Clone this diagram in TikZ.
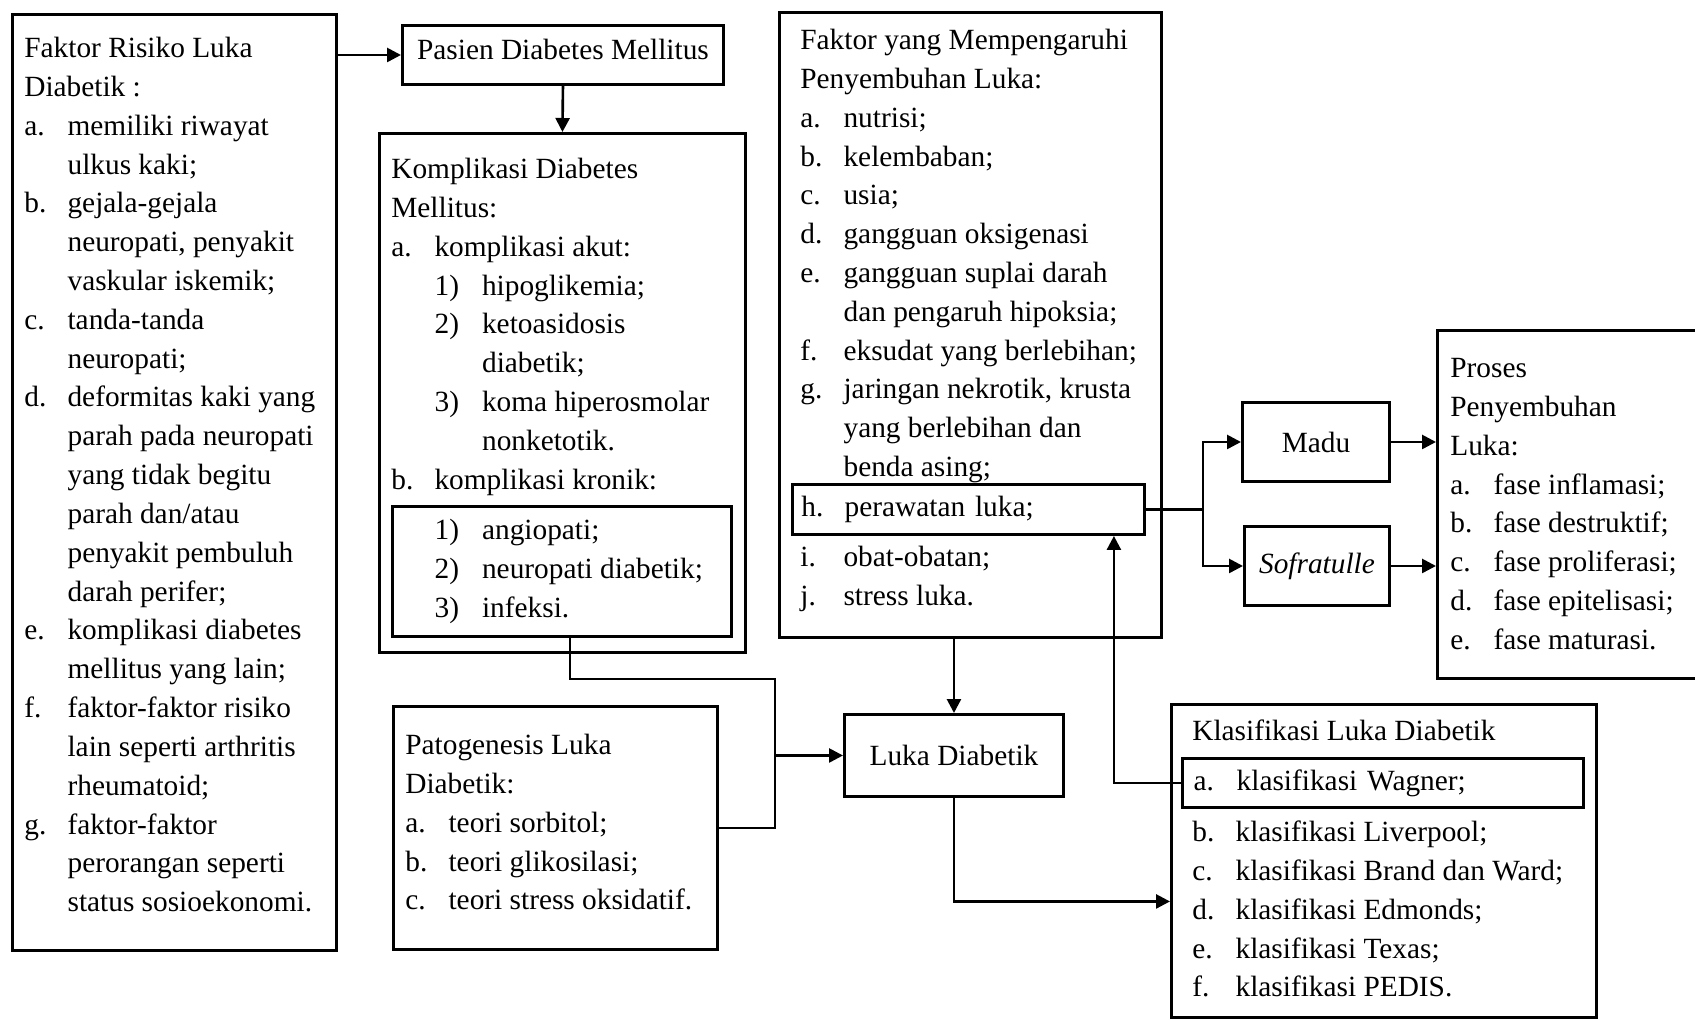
\documentclass[tikz,border=0pt]{standalone}
\usepackage{fontspec}
\setmainfont{Liberation Serif}
\usetikzlibrary{arrows.meta, positioning}
\newcommand{\mainfs}{\fontsize{16.7pt}{22.1pt}\selectfont}
\newlength{\lblw}
\setlength{\lblw}{0.865cm}
\newlength{\sublw}
\setlength{\sublw}{0.95cm}
\newcommand{\itm}[1]{\makebox[\lblw][l]{#1}}
\newcommand{\sub}[1]{\hspace*{\lblw}\makebox[\sublw][l]{#1}}
\newcommand{\cnt}{\hspace*{\lblw}}
\newcommand{\subcnt}{\hspace*{\lblw}\hspace*{\sublw}}

\begin{document}
\begin{tikzpicture}[
  x=0.02cm, y=-0.02cm,
  every node/.style={font=\mainfs},
  box/.style={rectangle, draw, line width=1.7pt, inner sep=0pt, anchor=north west},
  listtext/.style={anchor=north west, inner sep=0pt, align=left},
  lnk/.style={line width=1.5pt},
  arr/.style={line width=1.5pt, -{Triangle[length=0.28cm, width=0.28cm]}},
]
\useasboundingbox (0,0) rectangle (1695,1020);
\clip (0,0) rectangle (1695,1020);

% Left column: risk factors
\node[box, minimum width=6.48cm, minimum height=18.72cm] (risiko) at (11,13) {};
\node[listtext] (risikotxt) at (24,30) {\strut Faktor Risiko Luka\\
Diabetik :\\
\itm{a.}memiliki riwayat\\
\cnt ulkus kaki;\\
\itm{b.}gejala-gejala\\
\cnt neuropati, penyakit\\
\cnt vaskular iskemik;\\
\itm{c.}tanda-tanda\\
\cnt neuropati;\\
\itm{d.}deformitas kaki yang\\
\cnt parah pada neuropati\\
\cnt yang tidak begitu\\
\cnt parah dan/atau\\
\cnt penyakit pembuluh\\
\cnt darah perifer;\\
\itm{e.}komplikasi diabetes\\
\cnt mellitus yang lain;\\
\itm{f.}faktor-faktor risiko\\
\cnt lain seperti arthritis\\
\cnt rheumatoid;\\
\itm{g.}faktor-faktor\\
\cnt perorangan seperti\\
\cnt status sosioekonomi.};

% Patient and complications
\node[box, minimum width=6.42cm, minimum height=1.18cm, text depth=0.24cm] (pasien) at (401,24) {Pasien Diabetes Mellitus};
\node[box, minimum width=7.32cm, minimum height=10.38cm] (kompl) at (378,132) {};
\node[listtext] (kompltxt) at (391,151) {\strut Komplikasi Diabetes\\
Mellitus:\\
\itm{a.}komplikasi akut:\\
\sub{1)}hipoglikemia;\\
\sub{2)}ketoasidosis\\
\subcnt diabetik;\\
\sub{3)}koma hiperosmolar\\
\subcnt nonketotik.\\
\itm{b.}komplikasi kronik:};
\node[box, minimum width=6.78cm, minimum height=2.6cm] (kronik) at (391,505) {};
\node[listtext] (kroniktxt) at (391,512) {\strut\sub{1)}angiopati;\\
\sub{2)}neuropati diabetik;\\
\sub{3)}infeksi.};

% Pathogenesis
\node[box, minimum width=6.48cm, minimum height=4.86cm] (pato) at (392,705) {};
\node[listtext] (patotxt) at (405,727) {\strut Patogenesis Luka\\
Diabetik:\\
\itm{a.}teori sorbitol;\\
\itm{b.}teori glikosilasi;\\
\itm{c.}teori stress oksidatif.};

% Healing factors
\node[box, minimum width=7.64cm, minimum height=12.5cm] (faktor) at (778,11) {};
\node[listtext] (faktortxt) at (800,22) {\strut Faktor yang Mempengaruhi\\
Penyembuhan Luka:\\
\itm{a.}nutrisi;\\
\itm{b.}kelembaban;\\
\itm{c.}usia;\\
\itm{d.}gangguan oksigenasi\\
\itm{e.}gangguan suplai darah\\
\cnt dan pengaruh hipoksia;\\
\itm{f.}eksudat yang berlebihan;\\
\itm{g.}jaringan nekrotik, krusta\\
\cnt yang berlebihan dan\\
\cnt benda asing;};
\node[box, minimum height=1cm, text width=6.68cm, inner xsep=0.18cm, align=left] (hbox) at (791,483) {\itm{h.}perawatan luka;};
\node[listtext] (faktortxt2) at (800,539) {\strut\itm{i.}obat-obatan;\\
\itm{j.}stress luka.};

% Wound and classification
\node[box, minimum width=4.38cm, minimum height=1.64cm] (luka) at (843,713) {Luka Diabetik};
\node[box, minimum width=8.5cm, minimum height=6.26cm] (klas) at (1170,703) {};
\node[listtext] (klastxt) at (1192,713) {\strut Klasifikasi Luka Diabetik};
\node[box, minimum height=0.98cm, text width=7.58cm, inner xsep=0.22cm, align=left] (wagner) at (1181,757) {\itm{a.}klasifikasi Wagner;};
\node[listtext] (klastxt2) at (1192,814) {\strut\itm{b.}klasifikasi Liverpool;\\
\itm{c.}klasifikasi Brand dan Ward;\\
\itm{d.}klasifikasi Edmonds;\\
\itm{e.}klasifikasi Texas;\\
\itm{f.}klasifikasi PEDIS.};

% Treatments and healing process
\node[box, minimum width=2.94cm, minimum height=1.58cm] (madu) at (1241,401) {Madu};
\node[box, minimum width=2.9cm, minimum height=1.58cm] (sofra) at (1243,525) {\textit{Sofratulle}};
\node[box, minimum width=5.6cm, minimum height=6.96cm] (proses) at (1436,329) {};
\node[listtext] (prosestxt) at (1450,350) {\strut Proses\\
Penyembuhan\\
Luka:\\
\itm{a.}fase inflamasi;\\
\itm{b.}fase destruktif;\\
\itm{c.}fase proliferasi;\\
\itm{d.}fase epitelisasi;\\
\itm{e.}fase maturasi.};

% Connectors
\draw[arr] (pasien.west -| risiko.east) -- (pasien.west);
\draw[arr] (pasien.south) -- (kompl.north);

\coordinate (bend1) at (775,679);
\coordinate (bend2) at (775,828);
\draw[lnk] ([xshift=0.16cm]kronik.south) |- (bend1) -- (bend2) -- (bend2 -| pato.east);
\draw[arr] (bend1 |- luka.west) -- (luka.west);

\draw[arr] (luka.north |- faktor.south) -- (luka.north);
\draw[arr] (luka.south) |- ([yshift=-0.81cm]klas.west);
\draw[arr] (wagner.west) -| ([xshift=-0.64cm]hbox.south east);

\coordinate (split) at ([xshift=1.14cm]hbox.east);
\draw[lnk] (hbox.east) -- (split);
\draw[arr] (split) |- (madu.west);
\draw[arr] (split) |- (sofra.west);
\draw[arr] (madu.east) -- (madu.east -| proses.west);
\draw[arr] (sofra.east) -- (sofra.east -| proses.west);

\end{tikzpicture}
\end{document}
